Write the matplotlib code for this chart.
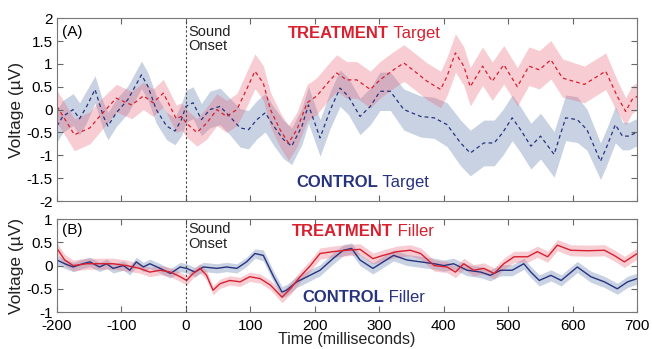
import matplotlib
matplotlib.use('Agg')
import matplotlib.pyplot as plt
import numpy as np

plt.rcParams['font.family'] = ['Liberation Sans', 'DejaVu Sans']
plt.rcParams['axes.unicode_minus'] = False

RED = '#d8202f'
RED_FILL = '#e8677a'
BLUE = '#27337f'
BLUE_FILL = '#5a78aa'

# (A) target words
t_trt_target = [-200, -173, -149, -134, -108, -84, -66, -51, -35, -15, -7, 1, 17, 32, 48, 63, 79, 94,
                107, 120, 131, 146, 159, 172, 188, 203, 224, 234, 249, 265, 286, 301, 322, 338, 358,
                374, 395, 405, 418, 431, 441, 460, 475, 493, 514, 532, 548, 566, 584, 618, 651, 669,
                682, 692, 700]
v_trt_target = [0.07, -0.55, -0.4, -0.15, 0.25, 0.1, 0.3, 0.15, 0.36, -0.2, -0.15, -0.3, -0.5, -0.3,
                0.0, -0.15, 0.0, 0.44, 0.84, 0.58, 0.0, -0.44, -0.73, -0.44, 0.15, 0.3, 0.65, 0.8,
                0.65, 0.65, 0.44, 0.65, 0.87, 1.02, 0.8, 0.62, 0.44, 0.73, 1.24, 0.95, 0.5, 0.95,
                0.62, 0.98, 0.5, 0.95, 0.87, 1.09, 0.69, 0.55, 0.84, 0.29, -0.04, 0.22, 0.29]
e_trt_target = [0.35, 0.35, 0.35, 0.35, 0.3, 0.3, 0.3, 0.3, 0.3, 0.3, 0.3, 0.3, 0.3, 0.35, 0.35, 0.35,
                0.35, 0.38, 0.38, 0.38, 0.38, 0.38, 0.38, 0.38, 0.4, 0.4, 0.4, 0.4, 0.4, 0.4, 0.4,
                0.4, 0.4, 0.4, 0.4, 0.4, 0.4, 0.42, 0.42, 0.42, 0.42, 0.42, 0.42, 0.42, 0.42, 0.42,
                0.42, 0.42, 0.42, 0.4, 0.4, 0.35, 0.3, 0.3, 0.3]

t_ctl_target = [-200, -191, -175, -165, -154, -141, -128, -121, -108, -90, -69, -59, -46, -30, -17,
                -7, 0, 11, 24, 37, 53, 68, 84, 97, 110, 123, 136, 151, 164, 180, 190, 208, 224, 239,
                252, 270, 286, 301, 317, 338, 364, 385, 405, 426, 441, 462, 478, 491, 506, 519, 535,
                550, 571, 589, 607, 622, 643, 653, 666, 677, 687, 697, 700]
v_ctl_target = [-0.36, -0.15, 0.0, -0.2, 0.07, 0.44, -0.15, -0.36, -0.07, 0.22, 0.76, 0.51, 0.0,
                -0.36, -0.47, -0.22, 0.07, 0.15, -0.22, 0.0, 0.07, -0.15, -0.4, -0.44, -0.22, -0.07,
                -0.36, -0.65, -0.8, -0.36, 0.1, -0.62, 0.0, 0.47, 0.29, -0.15, 0.07, 0.4, 0.4, 0.0,
                -0.15, -0.18, -0.33, -0.73, -0.95, -0.73, -0.73, -0.51, -0.18, -0.44, -0.8, -0.58,
                -0.98, -0.18, -0.22, -0.44, -1.13, -0.8, -0.33, -0.58, -0.58, -0.51, -0.5]
e_ctl_target = [0.35, 0.35, 0.35, 0.35, 0.35, 0.3, 0.3, 0.3, 0.3, 0.3, 0.3, 0.3, 0.3, 0.3, 0.3, 0.35,
                0.35, 0.35, 0.35, 0.4, 0.4, 0.4, 0.42, 0.42, 0.42, 0.42, 0.42, 0.42, 0.4, 0.4, 0.4,
                0.4, 0.4, 0.4, 0.4, 0.4, 0.4, 0.42, 0.42, 0.45, 0.45, 0.45, 0.48, 0.5, 0.5, 0.5, 0.5,
                0.5, 0.5, 0.5, 0.5, 0.5, 0.5, 0.5, 0.5, 0.45, 0.4, 0.4, 0.4, 0.3, 0.3, 0.3, 0.3]

# (B) filler words
t_trt_filler = [-200, -188, -175, -154, -134, -113, -92, -72, -56, -40, -24, -9, 1, 11, 22, 32, 42, 53,
                68, 84, 99, 115, 131, 149, 162, 177, 193, 208, 228, 249, 270, 290, 306, 327, 348, 364,
                385, 405, 418, 431, 446, 462, 478, 493, 509, 530, 545, 561, 576, 597, 623, 649, 664,
                680, 700]
v_trt_filler = [0.37, 0.12, 0.0, 0.04, 0.04, 0.04, 0.0, -0.06, -0.14, -0.1, -0.14, -0.24, -0.32,
                -0.17, -0.06, -0.21, -0.53, -0.39, -0.32, -0.35, -0.24, -0.28, -0.42, -0.68, -0.5,
                -0.24, 0.0, 0.26, 0.3, 0.33, 0.35, 0.15, 0.22, 0.3, 0.33, 0.26, 0.0, -0.03, -0.14,
                0.04, -0.1, -0.06, -0.17, 0.04, 0.19, 0.19, 0.3, 0.19, 0.44, 0.33, 0.32, 0.33, 0.22,
                0.08, 0.26]
e_trt_filler = [0.12] * 7 + [0.1] * 16 + [0.12] * 32

t_ctl_filler = [-200, -188, -175, -160, -149, -134, -123, -113, -97, -87, -77, -66, -56, -40, -24, -9,
                1, 14, 27, 48, 63, 79, 94, 107, 120, 136, 149, 156, 172, 188, 208, 228, 244, 257, 270,
                290, 306, 322, 343, 364, 385, 400, 415, 436, 457, 472, 488, 506, 524, 535, 548, 566,
                582, 607, 628, 649, 669, 685, 700]
v_ctl_filler = [0.12, 0.04, -0.03, 0.04, 0.08, -0.03, 0.04, -0.06, 0.0, -0.1, 0.08, -0.03, 0.04,
                -0.06, -0.17, -0.03, -0.06, -0.14, -0.03, -0.06, -0.03, -0.06, 0.08, 0.26, 0.22,
                -0.24, -0.57, -0.53, -0.35, -0.24, -0.1, 0.15, 0.33, 0.37, 0.12, -0.06, 0.08, 0.22,
                0.12, 0.08, 0.04, 0.0, 0.04, -0.1, -0.14, -0.21, -0.1, -0.1, 0.04, -0.14, -0.32,
                -0.21, -0.32, -0.03, -0.24, -0.35, -0.5, -0.35, -0.28]
e_ctl_filler = [0.1] * 24 + [0.12] * 35

panels = [
    ('(A)', (-2, 2), np.arange(-2, 2.01, 0.5), '--',
     (t_trt_target, v_trt_target, e_trt_target), (t_ctl_target, v_ctl_target, e_ctl_target),
     'Target', (158, 1.67), (171, -1.6)),
    ('(B)', (-1, 1), np.arange(-1, 1.01, 0.5), '-',
     (t_trt_filler, v_trt_filler, e_trt_filler), (t_ctl_filler, v_ctl_filler, e_ctl_filler),
     'Filler', (164, 0.74), (180, -0.68)),
]


def fmt(v):
    return ('%g' % v).replace('−', '-')


def draw_panel(ax, panel, show_x):
    tag, ylim, yticks, ls, trt, ctl, word, trt_pos, ctl_pos = panel
    for (t, v, e), fill_col in [(ctl, BLUE_FILL), (trt, RED_FILL)]:
        t = np.array(t)
        v = np.array(v)
        e = np.array(e)
        ax.fill_between(t, v - e, v + e, color=fill_col, alpha=0.33, lw=0)
    for (t, v, e), line_col in [(ctl, BLUE), (trt, RED)]:
        if ls == '--':
            ax.plot(t, v, color=line_col, lw=0.9, dashes=(3, 2.5))
        else:
            ax.plot(t, v, color=line_col, lw=1.0)

    ax.axvline(0, color='#444444', lw=0.8, ls=(0, (2, 2)))
    ax.set_xlim(-200, 700)
    ax.set_ylim(*ylim)
    ax.set_yticks(yticks)
    ax.set_yticklabels([fmt(v) for v in yticks])
    ax.set_xticks(np.arange(-200, 701, 100))
    if show_x:
        ax.set_xticklabels([str(v) for v in range(-200, 701, 100)])
    else:
        ax.set_xticklabels([])
    ax.tick_params(direction='in', top=True, right=True, labelsize=11, length=4,
                   color='#666666', pad=3)
    ax.tick_params(axis='x', pad=5)
    for s in ax.spines.values():
        s.set_color('#777777')
        s.set_linewidth(0.8)
    ax.set_ylabel('Voltage (µV)', fontsize=12.5, color='#222222', labelpad=2)

    ax.text(0.008, 0.96, tag, transform=ax.transAxes, fontsize=11, va='top', ha='left')
    ax.text(3, ylim[1] - 0.035 * (ylim[1] - ylim[0]), 'Sound\nOnset', fontsize=10.5,
            va='top', ha='left', linespacing=1.05, color='#222222')

    tx, ty = trt_pos
    t1 = ax.text(tx, ty, 'TREATMENT', color=RED, fontsize=12, fontweight='bold', va='center')
    ax.annotate(' ' + word, xycoords=t1, xy=(1, 0.5), va='center', color=RED, fontsize=12)
    cx, cy = ctl_pos
    c1 = ax.text(cx, cy, 'CONTROL', color=BLUE, fontsize=12, fontweight='bold', va='center')
    ax.annotate(' ' + word, xycoords=c1, xy=(1, 0.5), va='center', color=BLUE, fontsize=12)


def main():
    fig = plt.figure(figsize=(6.52, 3.49), dpi=100)
    ax_a = fig.add_axes([0.0874, 0.424, 0.890, 0.524])
    ax_b = fig.add_axes([0.0874, 0.106, 0.890, 0.266])
    draw_panel(ax_a, panels[0], False)
    draw_panel(ax_b, panels[1], True)
    ax_b.set_xlabel('Time (milliseconds)', fontsize=11.5, color='#222222', labelpad=-1)
    fig.savefig('out.png', dpi=100)


if __name__ == '__main__':
    main()
